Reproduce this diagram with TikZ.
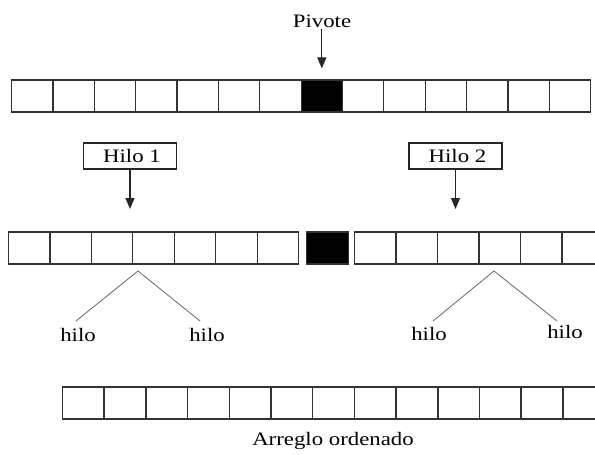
\documentclass[tikz,border=0pt]{standalone}
\usepackage{fontspec}
\setmainfont{Liberation Serif}[FakeStretch=1.2]
\usetikzlibrary{arrows.meta}
\begin{document}
\begin{tikzpicture}[x=1pt,y=-1pt,
  cell/.style={draw=black!80,line width=1.2pt,minimum width=41.4pt,minimum height=32pt,inner sep=0pt,anchor=west},
  pivcell/.style={cell,fill=black},
  lbl/.style={font=\fontsize{19}{21}\selectfont,inner sep=1pt},
  hbox/.style={draw=black!85,line width=1.1pt,minimum width=93pt,minimum height=26pt,inner sep=0pt,font=\fontsize{19}{21}\selectfont},
  arr/.style={draw=black!85,line width=1.1pt,-{Triangle[length=11pt,width=9pt]}},
  branch/.style={draw=black!60,line width=0.8pt}]
\clip (0,0) rectangle (595,455);
\fill[white] (0,0) rectangle (595,455);
% top row
\foreach \i in {0,...,13}{
  \ifnum\i=7
    \node[pivcell] (a\i) at ({11+41.36*\i},96) {};
  \else
    \node[cell] (a\i) at ({11+41.36*\i},96) {};
  \fi
}
\node[lbl] (piv) at (322,21) {Pivote};
\draw[arr,shorten >=11pt] (piv.south -| a7) -- (a7.north);
% thread boxes
\node[hbox] (h1) at (130,156) {\hspace{4pt}Hilo 1};
\node[hbox] (h2) at (455.5,156) {\hspace{4pt}Hilo 2};
\coordinate (h1tip) at (130,209);
\coordinate (h2tip) at (455.5,209);
\draw[arr] (h1.south) -- (h1tip);
\draw[arr] (h2.south) -- (h2tip);
% middle row
\foreach \i in {0,...,6}{
  \node[cell] (l\i) at ({8+41.43*\i},248) {};
}
\node[pivcell,minimum width=42pt] (mp) at (306,248) {};
\foreach \i in {0,...,6}{
  \node[cell] (r\i) at ({354+41.5*\i},248) {};
}
% branches
\coordinate (ap1) at (138,271);
\coordinate (ap2) at (494,271);
\coordinate (e1) at (76,321);
\coordinate (e2) at (200,321);
\coordinate (e3) at (433,321);
\coordinate (e4) at (557,321);
\draw[branch] (e1) -- (ap1) -- (e2);
\draw[branch] (e3) -- (ap2) -- (e4);
\node[lbl] (t1) at (78,335) {hilo};
\node[lbl] (t2) at (207,335) {hilo};
\node[lbl] (t3) at (429,334) {hilo};
\node[lbl] (t4) at (565,332) {hilo};
% bottom row
\foreach \i in {0,...,12}{
  \node[cell] (c\i) at ({62+41.7*\i},403) {};
}
\node[lbl] (ord) at (333,441) {Arreglo ordenado};
\end{tikzpicture}
\end{document}
